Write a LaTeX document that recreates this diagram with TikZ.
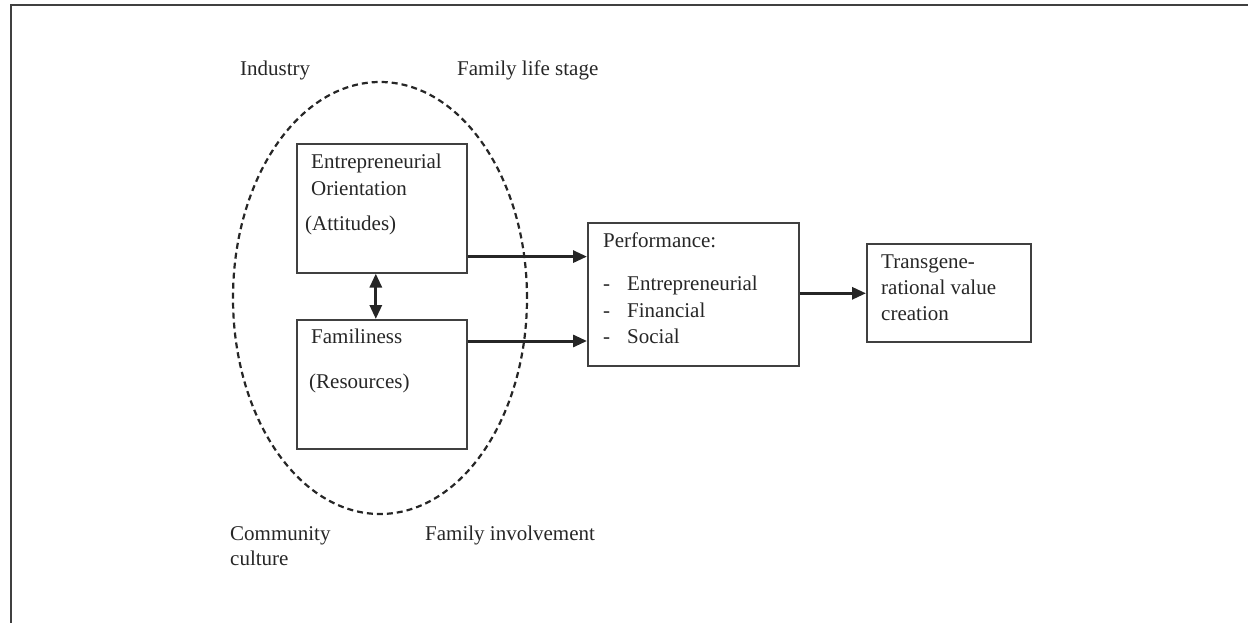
\documentclass[tikz,border=0pt]{standalone}
\usepackage{fontspec}
\setmainfont{Liberation Serif}
\usetikzlibrary{arrows.meta,shapes.geometric,calc}
\begin{document}
\begin{tikzpicture}[x=1pt,y=-1pt,
  txt/.style={anchor=base west,inner sep=0pt,font=\fontsize{21}{25}\selectfont,text=black!85},
  boxnode/.style={draw=black!75,line width=1.6pt,anchor=north west,inner sep=0pt},
  arr/.style={line width=3pt,draw=black!85,-{Triangle[length=14pt,width=12pt]}},
  darr/.style={line width=3pt,draw=black!85,{Triangle[length=14pt,width=12pt]}-{Triangle[length=14pt,width=12pt]}},
  frameline/.style={draw=black!75,line width=1.8pt}]
\useasboundingbox (0,0) rectangle (1248,623);
% partial frame
\coordinate (ftl) at (11,5);
\coordinate (ftr) at (1248,5);
\coordinate (fbl) at (11,623);
\draw[frameline] (ftr) -- (ftl) -- (fbl);
% ellipse
\node[ellipse,draw=black!85,line width=2.2pt,dash pattern=on 6pt off 4pt,minimum width=294pt,minimum height=432pt,inner sep=0pt] (ell) at (380,298) {};
% boxes
\node[boxnode,minimum width=170pt,minimum height=129pt] (eo) at (296,143) {};
\node[boxnode,minimum width=170pt,minimum height=129pt] (fam) at (296,319) {};
\node[boxnode,minimum width=211pt,minimum height=143pt] (perf) at (587,222) {};
\node[boxnode,minimum width=164pt,minimum height=98pt] (trans) at (866,243) {};
% texts
\node[txt] (t1) at (240,76) {Industry};
\node[txt] (t2) at (457,76) {Family life stage};
\node[txt] (t3) at (230,540) {Community};
\node[txt] (t4) at (230,565) {culture};
\node[txt] (t5) at (425,540) {Family involvement};
\node[txt] (e1) at (311,168) {Entrepreneurial};
\node[txt] (e2) at (311,195) {Orientation};
\node[txt] (e3) at (305,230) {(Attitudes)};
\node[txt] (f1) at (311,343) {Familiness};
\node[txt] (f2) at (309,388) {(Resources)};
\node[txt] (p0) at (603,247) {Performance:};
\node[txt] (pd1) at (603,290) {-};
\node[txt] (p1) at (627,290) {Entrepreneurial};
\node[txt] (pd2) at (603,317) {-};
\node[txt] (p2) at (627,317) {Financial};
\node[txt] (pd3) at (603,343) {-};
\node[txt] (p3) at (627,343) {Social};
\node[txt] (r1) at (881,268) {Transgene-};
\node[txt] (r2) at (881,294) {rational value};
\node[txt] (r3) at (881,320) {creation};
% connectors
\coordinate (a1) at ($(eo.south east)+(0,-17)$);
\coordinate (a2) at ($(fam.north east)+(0,22)$);
\draw[arr] (a1) -- (a1 -| perf.west);
\draw[arr] (a2) -- (a2 -| perf.west);
\coordinate (d1) at ($(eo.south)+(-6,0)$);
\draw[darr] (d1) -- (d1 |- fam.north);
\coordinate (a3) at ($(perf.east)+(0,-1)$);
\draw[arr] (a3) -- (a3 -| trans.west);
\end{tikzpicture}
\end{document}
